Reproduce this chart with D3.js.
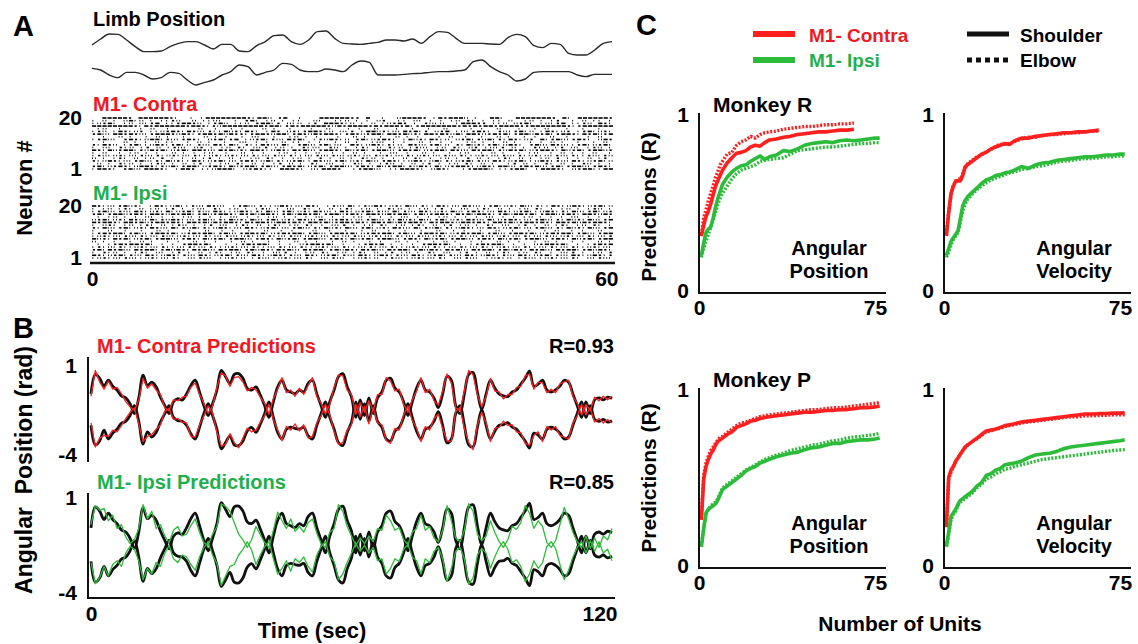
<!DOCTYPE html>
<html><head><meta charset="utf-8">
<script src="https://cdn.jsdelivr.net/npm/d3@7/dist/d3.min.js"></script>
<style>body{margin:0;background:#fff}svg{display:block}</style>
</head><body><svg id="fig" width="1138" height="644"></svg>
<script>
// ---------------- DATA ----------------
// Panel A: limb position traces (arbitrary units, higher = up), one sample per second 0..60
const limbSeconds = d3.range(0, 61);
const limbShoulder = [140,158,173,172,155,135,120,120,122,135,145,150,150,140,128,142,142,122,120,138,150,168,170,150,142,155,180,182,160,145,143,142,145,148,155,155,152,158,145,165,180,178,160,145,145,145,143,142,162,172,165,138,132,145,142,115,110,110,125,145,150];
const limbElbow = [70,65,50,42,58,58,50,38,42,58,55,35,20,28,35,50,60,80,75,50,58,65,85,82,65,60,60,68,65,60,80,92,88,50,50,50,52,54,55,58,60,60,62,65,90,95,75,60,50,32,38,58,60,60,60,60,50,45,52,52,52];

// Panel A rasters: one string per neuron (20 -> 1), each char a time bin: ' ' none, '.' spike, ':' two spikes, '-' burst, '=' dense burst
const rasterContra = [
"  =====- ======-.  . .========-.==: -=  .   ======-- =  .  :====- .=-===: .  ==.  =======- =. ======-",
". : . :=.: . ..-:  : ..:.  . -=. .: . ..  :.  ..: . . :-  .. :. . . .: -. . .. :  .: . .-  . : .. .",
".:-=. .: :.-= ..-==-: .-=: ..: -==.- :.: .- ===-.: . : .:-=- . -:.:  .===-- ..: :-=. .:.-= ..-: =-.",
"========-.=-======-==-.-:========-==.-=-=====-:=-====-=-===-=.-=======-=-=-==-====--=======-.-======",
" .:  .   . :  .     :  .  . .   : .  .   .  :   . .  :   .  .  .  :    . .  :   .  . :   .  .  .  ",
".-: .=-.:- ..:-=-.=-:.-..=:-.=-. .=- :-.-==-.: :.- .==:-.:.=-=.- :-= .:.-=-. -:.-=.: .=-.:- .-=.:-.",
"-=:.==-=-:.-===-:=-.-==-=:=--.-==-:==.-=-:=-==-.-=-:-==.==-=:-.==-=-:=.==-:-=-=.-==:=-=.-==-.=-=:-=",
"  .  : .  . : .  .   : . .  . :.  .  .: . .   .  : .  .  : . .   . :  .  .  : .  . .  :  .   . :  ",
".-=:. -=-.:==.-:.-=-. :-=.-= .:-=.-:.=-=. .-:=-.: -=.:-=-. .=:-.=-.: :-=.-:=.-.=-.:- =.-=:.-=-. :=-",
"  .   : . . : ..  . : .  .  :. . .  : .. . .  . : .  .:. . .  : . . .  .: . . : .  . . : .  .  . : ",
"-.=-: .-=..:=-.-=.: -:.=-.=: -..=-:.=. -=:.-=.:. =-.:=-.-.: =-:.-=.: -.=:-.-=.:=-. -=:.=-:..-=.:-=.",
". :. -.: .- : .-:. :- . .: -. :.- .: . -.:. -: . .-. : -.: .-:. .: -. :- .:.- : . -.: .- :. .-: .",
"=-.=:-==.-:=-=.:-=.==-:.=-=:-.==-.:=-.=-=:.-==-.=:-=.-==:.-=-=.:-==.=-:.=-==.-:=-=.:-==-.=:-=.-==:-",
". :  . .: . .  : . . .:  .  : . .  .: . . :  . . : .  . :. .  : .  . .:  . : .  . .:  . : . . :  .",
".-:.:-.:.-:.-.:-.:.-..:-.:-.:.-.:.-:.-..:.-:.-:.:-.:.-:-.:.-.:-.:.-:.-..:-.:.-:.-.:-.:.-:.-..-:.-:",
": . .-. : .: - . . : .- . : . .: -. . .: . - . : . -.: . . : -. . .: . - : . .-. : . .: - . . : .- ",
"-.:=-.:.-=:.-.=:-..=-.:-=.:.-=-.:=.-.:-=..=-:.-=.:-.=:.-=-..:=-.:=.-.:-=.-:.=-.:-=..:=-.-:.=-.:-=.:",
" : . -.: . .-: . : .- . .: -. : . .- : . -. :. . -: . .-: . : .- . .: -. : .  .- : . -. : . -: . .",
"-=.:-=-.:==-.-:=.-==.:-=-.=:-==.-=:.-=-=.:-=.-==:.-=-.=:-==.-:=-.=.:-==-.:=-.==:.-=-=:.-=.-==:.-=-.",
".==-. -=:.===-. .==- ..:===. :-=-.. ===-. :.===-  .-==:. ..===-. :=-.  .-===: ..-==. .===-. :-==..=="];
const rasterIpsi = [
"=-.:.-=:-. .=-.:=..-:.=-:. .-=:.-..:=-.:.=-. .-:.=..-:=-.:-.=:.-..=-.:.=-:..-=.:-.=:.-..=-.:=-.:-=.:",
". .: .-. : .: .- . .:. -. .: . .-: . :. -. . : .-. .: . -.: . .: .- . :. .-. : . .: -. . .: . .-: .",
".-=:.-:.=-.:-.=.:-=.-:.=-..:=-.-.=:.-=.:-.=-:..=-.:-=.-:.=.-:.=-.:-.=:.-=-.:.=-.:-=..:=-.-.=:.-=.:-",
"-=.-==:-=-.==-:=-==.-=:-==-.=-=:==-.-=:==-=.-==:-=-.==-:=-==.-=:-==-.=-=:==-.-=:==-=.-==:-=-.==-:=-",
" . .: . . :. . . .: . . . :. . . .: . . . :. . . .: . . . :. . . .: . . . :. . . .: . . . :. . . .",
":-=.:-.=-:.=.-:=-.:.-=:.-.=:-.=:.-=.:-.=-:.=.:-=-.:.-=:.-.=:-.=:.-=.:-.=-:.=.:-=-.:.-=:.-.=:-.=:.-=",
"=-==-.==-=:-==-=-.==-=:=-==-.=-==-:==-=-.==-=:-==-=-.==-=:=-==-.=-==-:==-=-.==-=:-==-=-.==-=:=-==-.",
". :-. .: .-. : .-: . .- :. .-. : .-. .: -. . :.- . .: -. .: .-. : .- .: . -. :. .- . : .-. .: -. .",
"-.=:.-=.:-.=-:.=.-:=.-.:=-.:.=-.:-=.:.-=:.-.=:-.=:.-=.:-.=-:.=.-:=.-.:=-.:.=-.:-=.:.-=:.-.=:-.=:.-=",
".  :  .  .  : .   .  :  . .  .  :  . .   :  .  .  . :  .  .  .  :  . .  .  :  .  .  . :  . .  :  ",
".-=-==.-=:.-==-=.:-=-==.-=:.-==-=.:-=-==.-=:.-==-=.:-=-==.-=:.-==-=.:-=-==.-=:.-==-=.:-=-==.-=:.-==",
".:-.:.-:.-.:.-:.:-.:.-.:.-:.:-.:.-.:.-:.:-.:.-.:.-:.:-.:.-.:.-:.:-.:.-.:.-:.:-.:.-.:.-:.:-.:.-.:.-",
"=:-.=-=.:-=.-==:.-=-.=:-=.-==:.-=-.=:-=.-==:.-=-.=:-=.-==:.-=-.=:-=.-==:.-=-.=:-=.-==:.-=-.=:-=.-==",
": . .  . : .  . .  : . .  . : .  . .  : . .  . : .  . .  : . .  . : .  . .  : . .  . : .  . .  : .",
" . .-=-==-=. . . -==-=.  . .-=-==. . . :-==-=. .  .-=-= . . . -==-=. . .-=-==. . . :-==-=. . .-=-=",
".-.:.-..:-.:.-..:.-.:.-..:-.:.-..:.-.:.-..:-.:.-..:.-.:.-..:-.:.-..:.-.:.-..:-.:.-..:.-.:.-..:-.:.",
"-=.=-=:.=-==.-=:=-.=-=:.=-==.-=:=-.=-=:.=-==.-=:=-.=-=:.=-==.-=:=-.=-=:.=-==.-=:=-.=-=:.=-==.-=:=-.",
". -.: . .-. :. .- . : .-. .: -. . :.- . .: -. .: .-. : .- .: . -. :. .- . : .-. .: -. . :.- . .: -",
"=-.:-=.-:.=-.:=-.-:.=-.:-=.-:.=-.:=-.-:.=-.:-=.-:.=-.:=-.-:.=-.:-=.-:.=-.:=-.-:.=-.:-=.-:.=-.:=-.-",
".:-.:.-:..:-.:.-. :.-:. .:-.: .-:..:-.:.-. :.-:. .:-.: .-:..:-.:.-. :.-:. .:-.: .-:..:-.:.-. :.-:."];

// Panel B: angular position (rad), one sample per second 0..120
const predSeconds = d3.range(0, 121);
const actualShoulder = [-0.57,0.53,0.31,-0.13,0.2,-0.13,-0.35,-0.68,-0.79,-1.12,
-1.67,-0.79,0.49,-0.09,0.09,-0.17,-0.75,-1.23,-1.67,-1.01,
-0.83,-0.92,-0.57,-0.09,0.2,-0.46,-1.23,-1.78,-1.12,-0.35,
0.75,0.4,0.02,0.53,0.57,0.31,-0.26,-0.35,-0.17,-0.64,
-1.23,-1.89,-1.01,-0.17,0.2,-0.35,-0.46,-0.55,-0.35,-0.46,
0.02,0.2,-0.55,-1.23,-1.89,-1.01,-0.35,0.4,0.57,-0.17,
-0.75,-1.89,-0.9,-1.78,-0.79,-1.67,-0.79,-0.46,0.2,0.31,
-0.24,-0.46,-1.01,-1.78,-1.01,-0.24,0.2,-0.35,-0.46,-0.79,
-1.34,-0.57,0.42,0.2,-1.23,-1.67,-0.57,0.53,0.64,-0.46,
-1.45,-0.57,0.2,-0.24,-0.57,-0.68,-0.72,-0.46,-0.35,-0.02,
0.31,0.71,-0.13,-0.02,0.2,-0.35,-0.46,-0.35,-0.13,0.2,
0.09,-0.57,-1.23,-1.89,-1.01,-1.67,-0.9,-0.79,-0.9,-0.75,
-0.83];
const actualElbow = [-2.33,-3.43,-3.21,-2.6,-3.1,-2.77,-2.55,-2.22,-2.11,-1.78,
-1.23,-2.11,-3.39,-2.7,-2.99,-2.73,-2.15,-1.67,-1.23,-1.89,
-2.07,-2.1,-2.33,-2.81,-3.1,-2.44,-1.67,-1.12,-1.78,-2.55,
-3.65,-3.3,-2.92,-3.43,-3.47,-3.21,-2.64,-2.45,-2.73,-2.26,
-1.67,-1.01,-1.89,-2.73,-3.1,-2.55,-2.44,-2.5,-2.55,-2.44,
-2.92,-3.1,-2.35,-1.67,-1.01,-1.89,-2.55,-3.3,-3.47,-2.73,
-2.15,-1.01,-2.0,-1.12,-2.11,-1.23,-2.11,-2.44,-3.1,-3.21,
-2.66,-2.44,-1.89,-1.12,-1.89,-2.66,-3.1,-2.55,-2.44,-2.11,
-1.56,-2.33,-3.32,-3.1,-1.67,-1.23,-2.33,-3.43,-3.54,-2.44,
-1.45,-2.33,-3.1,-2.66,-2.33,-2.3,-2.18,-2.44,-2.55,-2.88,
-3.21,-3.61,-2.77,-2.88,-3.1,-2.55,-2.44,-2.55,-2.77,-3.1,
-2.99,-2.33,-1.67,-1.01,-1.89,-1.23,-2.0,-2.11,-2.0,-2.15,
-2.07];
const contraShoulder = [-0.7,0.75,0.1,-0.3,0.15,-0.3,-0.2,-0.55,-1.0,-1.3,
-1.5,-0.9,0.3,-0.25,0.0,-0.35,-0.6,-1.35,-1.5,-0.9,
-0.95,-0.75,-0.7,-0.2,0.05,-0.6,-1.1,-1.65,-1.25,-0.2,
0.6,0.45,-0.15,0.35,0.4,0.1,-0.4,-0.2,-0.35,-0.75,
-1.1,-1.7,-0.85,-0.3,0.35,-0.5,-0.35,-0.7,-0.25,-0.6,
-0.1,0.35,-0.7,-1.1,-1.7,-1.15,-0.2,0.5,0.45,-0.35,
-0.6,-1.7,-1.05,-1.6,-0.95,-1.5,-0.6,-0.6,0.35,0.15,
-0.4,-0.3,-1.15,-1.6,-0.9,-0.4,0.35,-0.5,-0.3,-0.95,
-1.2,-0.4,0.55,0.05,-1.35,-1.5,-0.4,0.75,0.5,-0.6,
-1.3,-0.7,0.3,-0.4,-0.45,-0.85,-0.6,-0.6,-0.2,-0.15,
0.45,0.55,-0.3,0.1,0.05,-0.5,-0.3,-0.5,0.0,0.1,
0.2,-0.7,-1.1,-1.75,-1.15,-1.5,-0.75,-0.95,-0.7,-0.9,
-0.7];
const contraElbow = [-2.2,-3.55,-3.05,-2.9,-2.95,-2.6,-2.7,-2.35,-1.95,-1.6,
-1.35,-2.25,-3.25,-2.95,-2.85,-2.55,-2.3,-1.55,-1.4,-2.0,
-1.95,-2.15,-2.2,-2.95,-3.0,-2.3,-1.8,-1.25,-1.65,-2.7,
-3.5,-3.4,-2.8,-3.3,-3.6,-3.05,-2.5,-2.7,-2.6,-2.15,
-1.8,-1.15,-2.0,-2.6,-3.2,-2.4,-2.6,-2.25,-2.65,-2.3,
-3.05,-2.95,-2.2,-1.8,-1.15,-1.75,-2.7,-3.4,-3.3,-2.6,
-2.3,-1.15,-1.85,-1.25,-2.25,-1.35,-2.2,-2.3,-3.2,-3.35,
-2.5,-2.6,-1.75,-1.25,-2.05,-2.5,-3.25,-2.4,-2.6,-1.95,
-1.7,-2.5,-3.2,-3.25,-1.55,-1.35,-2.5,-3.3,-3.7,-2.3,
-1.6,-2.2,-3.25,-2.5,-2.45,-2.1,-2.35,-2.3,-2.7,-2.75,
-3.35,-3.45,-2.9,-2.7,-3.25,-2.4,-2.6,-2.4,-2.9,-3.0,
-3.1,-2.2,-1.8,-1.15,-1.75,-1.35,-2.15,-1.95,-2.2,-2.0,
-2.2];
const ipsiShoulder = [-0.4,0.6,0.35,0.45,-0.2,0.1,-0.6,-0.4,-1.05,-1.4,
-1.2,-0.6,0.65,-0.1,0.3,-0.6,-0.4,-1.0,-1.35,-0.7,
-0.5,-1.0,-0.9,-0.45,-0.1,-0.8,-1.35,-1.5,-0.9,-0.5,
0.7,0.55,0.3,-0.3,-0.9,-1.2,-1.6,-1.2,-0.5,-0.95,
-1.35,-1.6,-0.7,0.25,-0.2,-0.6,-0.1,-0.75,-0.5,-0.8,
-0.3,-0.1,-0.85,-1.4,-1.6,-0.8,-0.6,0.65,0.3,-0.5,
-1.0,-1.5,-1.1,-1.4,-1.0,-1.3,-0.6,-0.7,0.1,-0.2,
-0.7,-0.55,-1.2,-1.45,-0.8,-0.6,0.1,-0.7,-0.5,-1.1,
-1.3,-0.7,0.6,-0.2,-1.1,-1.3,-0.7,0.7,0.3,-0.9,
-1.25,-1.0,-0.2,-0.8,-1.3,-1.6,-1.2,-0.5,-0.65,-0.3,
0.6,0.2,-0.6,-0.2,-0.5,-1.35,-1.6,-1.25,-0.4,0.5,
-0.1,-0.8,-1.3,-1.6,-1.0,-1.65,-1.1,-1.6,-1.0,-1.2,
-0.6];
const ipsiElbow = [-2.4,-3.5,-3.2,-2.6,-3.1,-2.5,-2.3,-2.6,-1.9,-1.55,
-1.7,-2.3,-3.3,-2.7,-3.0,-2.4,-2.6,-1.9,-1.5,-2.2,
-2.4,-2.0,-2.1,-2.5,-2.8,-2.1,-1.6,-1.35,-2.0,-2.45,
-3.6,-3.1,-2.6,-2.5,-2.0,-1.7,-1.3,-1.75,-2.5,-2.0,
-1.55,-1.3,-2.2,-3.0,-2.7,-2.3,-2.85,-2.2,-2.4,-2.1,
-2.6,-2.9,-2.0,-1.55,-1.3,-2.1,-2.35,-3.3,-3.0,-2.4,
-1.9,-1.4,-1.8,-1.5,-1.9,-1.6,-2.3,-2.2,-3.0,-2.7,
-2.2,-2.35,-1.7,-1.45,-2.1,-2.3,-3.0,-2.2,-2.4,-1.8,
-1.6,-2.2,-3.4,-2.7,-1.8,-1.6,-2.2,-3.55,-3.2,-2.0,
-1.65,-1.9,-2.7,-2.1,-1.6,-1.3,-1.7,-2.4,-2.25,-2.6,
-3.4,-3.0,-2.3,-2.7,-2.4,-1.55,-1.3,-1.65,-2.5,-3.3,
-2.8,-2.1,-1.6,-1.3,-1.9,-1.25,-1.8,-1.3,-1.9,-1.7,
-2.3];

// Panel C: prediction (R) vs number of units
const units = [1,2,3,4,5,6,7,8,9,10,12,14,16,18,20,22,24,26,28,30,33,36,39,42,45,48,51,54,57,60,63,66,69,72,75,77];
const rPosContraShoulder = [0.32,0.38,0.43,0.46,0.5,0.55,0.6,0.63,0.66,0.69,0.73,0.76,0.785,0.79,0.8,0.82,0.83,0.825,0.845,0.86,0.865,0.875,0.88,0.89,0.895,0.9,0.905,0.905,0.91,0.915,0.915,0.92];
const rPosContraElbow = [0.33,0.42,0.47,0.52,0.56,0.6,0.65,0.68,0.72,0.74,0.78,0.79,0.83,0.85,0.86,0.88,0.87,0.89,0.9,0.905,0.91,0.92,0.925,0.93,0.935,0.935,0.94,0.945,0.945,0.95,0.95,0.955];
const rPosIpsiShoulder = [0.21,0.28,0.34,0.36,0.37,0.42,0.48,0.53,0.57,0.61,0.65,0.68,0.7,0.715,0.72,0.74,0.755,0.77,0.75,0.765,0.775,0.8,0.795,0.81,0.83,0.84,0.845,0.85,0.845,0.855,0.86,0.855,0.86,0.865,0.87,0.87];
const rPosIpsiElbow = [0.2,0.25,0.29,0.33,0.37,0.41,0.45,0.5,0.53,0.56,0.6,0.64,0.67,0.69,0.7,0.71,0.72,0.74,0.745,0.75,0.755,0.76,0.78,0.8,0.805,0.81,0.815,0.82,0.82,0.825,0.83,0.835,0.84,0.84,0.845,0.845];
const rVelContraShoulder = [0.32,0.45,0.56,0.6,0.63,0.63,0.63,0.66,0.71,0.72,0.74,0.76,0.78,0.79,0.81,0.82,0.83,0.84,0.835,0.855,0.87,0.87,0.88,0.885,0.89,0.895,0.9,0.9,0.905,0.905,0.91,0.915];
const rVelContraElbow = [0.33,0.46,0.55,0.61,0.62,0.64,0.64,0.67,0.7,0.725,0.745,0.765,0.775,0.795,0.805,0.825,0.835,0.835,0.84,0.85,0.865,0.875,0.875,0.885,0.89,0.89,0.895,0.9,0.9,0.905,0.91,0.91];
const rVelIpsiShoulder = [0.21,0.25,0.29,0.31,0.33,0.35,0.42,0.49,0.52,0.54,0.565,0.59,0.615,0.635,0.645,0.66,0.665,0.675,0.68,0.69,0.71,0.7,0.72,0.73,0.735,0.745,0.75,0.755,0.76,0.765,0.765,0.77,0.775,0.775,0.78,0.78];
const rVelIpsiElbow = [0.2,0.23,0.27,0.3,0.32,0.34,0.4,0.46,0.5,0.525,0.555,0.58,0.6,0.62,0.635,0.645,0.655,0.665,0.675,0.68,0.695,0.7,0.71,0.715,0.725,0.735,0.74,0.745,0.75,0.755,0.755,0.76,0.765,0.765,0.77,0.77];
const pPosContraShoulder = [0.27,0.5,0.57,0.61,0.64,0.66,0.69,0.71,0.72,0.73,0.75,0.765,0.79,0.8,0.81,0.825,0.83,0.84,0.845,0.85,0.855,0.86,0.865,0.87,0.875,0.875,0.88,0.885,0.885,0.89,0.89,0.895,0.9,0.9,0.905,0.91];
const pPosContraElbow = [0.28,0.52,0.59,0.63,0.66,0.68,0.7,0.72,0.735,0.74,0.76,0.78,0.8,0.815,0.82,0.83,0.84,0.85,0.855,0.86,0.865,0.87,0.875,0.88,0.885,0.89,0.89,0.895,0.9,0.9,0.905,0.91,0.915,0.92,0.925,0.93];
const pPosIpsiShoulder = [0.12,0.22,0.31,0.33,0.34,0.35,0.36,0.38,0.41,0.44,0.46,0.48,0.5,0.52,0.545,0.56,0.57,0.59,0.6,0.61,0.625,0.635,0.645,0.65,0.665,0.675,0.68,0.69,0.7,0.7,0.71,0.715,0.72,0.72,0.725,0.73];
const pPosIpsiElbow = [0.12,0.23,0.3,0.33,0.35,0.36,0.37,0.39,0.42,0.45,0.47,0.49,0.51,0.53,0.55,0.565,0.58,0.595,0.61,0.62,0.635,0.645,0.66,0.67,0.68,0.69,0.695,0.705,0.715,0.72,0.73,0.735,0.74,0.745,0.75,0.757];
const pVelContraShoulder = [0.23,0.51,0.55,0.57,0.6,0.62,0.64,0.66,0.68,0.69,0.71,0.73,0.75,0.77,0.775,0.78,0.79,0.8,0.805,0.81,0.82,0.825,0.83,0.835,0.84,0.845,0.85,0.855,0.86,0.865,0.865,0.867,0.868,0.87,0.87,0.872];
const pVelContraElbow = [0.23,0.5,0.54,0.57,0.6,0.62,0.64,0.66,0.675,0.69,0.71,0.725,0.745,0.765,0.77,0.78,0.785,0.795,0.8,0.805,0.815,0.82,0.825,0.83,0.835,0.84,0.845,0.85,0.85,0.855,0.855,0.857,0.858,0.86,0.86,0.86];
const pVelIpsiShoulder = [0.12,0.2,0.29,0.31,0.33,0.36,0.38,0.39,0.4,0.41,0.43,0.46,0.48,0.52,0.53,0.55,0.56,0.58,0.585,0.59,0.6,0.62,0.635,0.64,0.645,0.655,0.67,0.68,0.685,0.69,0.695,0.7,0.705,0.71,0.715,0.72];
const pVelIpsiElbow = [0.12,0.19,0.27,0.3,0.32,0.35,0.37,0.38,0.39,0.4,0.42,0.45,0.47,0.5,0.51,0.53,0.54,0.555,0.56,0.57,0.58,0.59,0.6,0.61,0.615,0.62,0.625,0.63,0.635,0.64,0.645,0.65,0.655,0.66,0.663,0.665];

// ---------------- DRAWING ----------------
const RED = "#ff1f1f", RED_T = "#f2181f", GREEN = "#2cbc3a", GREEN_T = "#1fb04c", INK = "#111";
const FONT = '"Liberation Sans", Arial, Helvetica, sans-serif';
const fmt = d => String(d);
const svg = d3.select("#fig");

function label(x, y, s, size, fill, anchor, rot) {
  const t = svg.append("text").attr("x", x).attr("y", y).text(s)
    .attr("font-size", size).attr("font-family", FONT).attr("font-weight", "bold")
    .attr("fill", fill || "#000").attr("text-anchor", anchor || "start")
    .style("white-space", "pre");
  if (rot != null) t.attr("transform", `rotate(${rot},${x},${y})`).attr("dominant-baseline", "central");
  return t;
}
function styleAxis(g, size) {
  g.select(".domain").remove();
  g.selectAll("text").attr("font-size", size).attr("font-family", FONT).attr("font-weight", "bold").attr("fill", "#000");
}
function vline(x, y1, y2, w) { svg.append("line").attr("x1", x).attr("x2", x).attr("y1", y1).attr("y2", y2).attr("stroke", INK).attr("stroke-width", w); }
function hline(y, x1, x2, w) { svg.append("line").attr("x1", x1).attr("x2", x2).attr("y1", y).attr("y2", y).attr("stroke", INK).attr("stroke-width", w); }

// ===== Panel A =====
label(13, 36, "A", 29);
label(93, 26, "Limb Position", 20);
const xLimb = d3.scaleLinear().domain([0, 60]).range([92, 612]);
const yLimb = d3.scaleLinear().domain([0, 200]).range([25 + 200 / 3, 25]);
[limbShoulder, limbElbow].forEach(vals => {
  svg.append("path").datum(vals)
    .attr("d", d3.line().x((d, i) => xLimb(limbSeconds[i])).y(d => yLimb(d)).curve(d3.curveMonotoneX))
    .attr("fill", "none").attr("stroke", "#2a2a2a").attr("stroke-width", 1.4);
});

const xRaster = d3.scaleLinear().domain([0, 60]).range([92, 614]);
function raster(rows, yTop, yBot) {
  const y = d3.scaleLinear().domain([20, 1]).range([yTop, yBot]);
  const g = svg.append("g");
  rows.forEach((str, k) => {
    const neuron = 20 - k, L = str.length, bw = 60 / L;
    const yc = y(neuron);
    for (let i = 0; i < L; i++) {
      const c = str[i];
      if (c === " ") continue;
      const x0 = xRaster(i * bw), w = xRaster(bw) - xRaster(0);
      const marks = c === "." ? [[0.4, 0.9]] : c === ":" ? [[0, 0.9], [w * 0.55, 0.9]] : c === "-" ? [[0.8, w * 0.42]] : [[0, w * 0.8]];
      marks.forEach(m => g.append("rect").attr("x", x0 + m[0]).attr("y", yc - 0.8).attr("width", m[1]).attr("height", 1.6).attr("fill", "#000"));
    }
  });
}
label(93, 111, "M1- Contra", 20, RED_T);
raster(rasterContra, 118, 169);
label(93, 200, "M1- Ipsi", 20, GREEN_T);
raster(rasterIpsi, 206, 258);
const yTickA1 = d3.scaleLinear().domain([20, 1]).range([118, 169]);
const yTickA2 = d3.scaleLinear().domain([20, 1]).range([206, 258]);
[yTickA1, yTickA2].forEach(s => {
  const g = svg.append("g").attr("transform", "translate(90,0)").call(d3.axisLeft(s).tickValues([20, 1]).tickFormat(fmt).tickSize(0).tickPadding(8));
  styleAxis(g, 21);
});
const axA = svg.append("g").attr("transform", "translate(0,263)").call(d3.axisBottom(xRaster).tickValues([0, 60]).tickFormat(fmt).tickSize(0).tickPadding(8));
styleAxis(axA, 21);
axA.selectAll(".tick text").filter(d => d === 60).attr("text-anchor", "end").attr("x", 4);
hline(263, 90, 615, 2.5);
label(24, 188, "Neuron #", 22, "#000", "middle", -90);

// ===== Panel B =====
label(13, 338, "B", 29);
const xB = d3.scaleLinear().domain([0, 120]).range([91, 612]);
function predPanel(yTop, yBot, predS, predE, color) {
  const y = d3.scaleLinear().domain([-4, 1]).range([yBot, yTop]);
  const g = svg.append("g").attr("transform", "translate(88,0)").call(d3.axisLeft(y).tickValues([1, -4]).tickFormat(fmt).tickSize(0).tickPadding(11));
  styleAxis(g, 21);
  const smooth = d3.line().x((d, i) => xB(predSeconds[i])).y(d => y(d)).curve(d3.curveCatmullRom);
  const rough = d3.line().x((d, i) => xB(predSeconds[i])).y(d => y(d));
  [actualShoulder, actualElbow].forEach(v => svg.append("path").datum(v).attr("d", smooth).attr("fill", "none").attr("stroke", INK).attr("stroke-width", 2.8).attr("stroke-linejoin", "round"));
  [predS, predE].forEach(v => svg.append("path").datum(v).attr("d", rough).attr("fill", "none").attr("stroke", color).attr("stroke-width", 1.3).attr("stroke-linejoin", "round"));
  return y;
}
label(97, 353, "M1- Contra Predictions", 20, RED_T);
label(614, 353, "R=0.93", 20, "#000", "end");
const yBc = predPanel(366, 455, contraShoulder, contraElbow, RED);
vline(88, yBc(1) - 9, yBc(-4) + 7, 2);
label(97, 489, "M1- Ipsi Predictions", 20, GREEN_T);
label(614, 489, "R=0.85", 20, "#000", "end");
const yBi = predPanel(498, 593, ipsiShoulder, ipsiElbow, GREEN);
vline(88, yBi(1) - 5, 598, 2);
hline(598, 87, 615, 2);
const axB = svg.append("g").attr("transform", "translate(0,598)").call(d3.axisBottom(xB).tickValues([0, 120]).tickFormat(fmt).tickSize(0).tickPadding(8));
styleAxis(axB, 21);
axB.selectAll(".tick text").filter(d => d === 120).attr("text-anchor", "end").attr("x", 5);
label(312, 638, "Time (sec)", 22, "#000", "middle");
label(24, 470, "Angular  Position (rad)", 23, "#000", "middle", -90);

// ===== Panel C =====
label(636, 35, "C", 29);
svg.append("line").attr("x1", 753).attr("x2", 795).attr("y1", 34).attr("y2", 34).attr("stroke", RED).attr("stroke-width", 6);
label(809, 42, "M1- Contra", 19, RED_T);
svg.append("line").attr("x1", 753).attr("x2", 795).attr("y1", 60).attr("y2", 60).attr("stroke", GREEN).attr("stroke-width", 6);
label(809, 67, "M1- Ipsi", 19, GREEN_T);
svg.append("line").attr("x1", 967).attr("x2", 1009).attr("y1", 34).attr("y2", 34).attr("stroke", INK).attr("stroke-width", 5);
label(1020, 42, "Shoulder", 19);
svg.append("line").attr("x1", 967).attr("x2", 1009).attr("y1", 60).attr("y2", 60).attr("stroke", INK).attr("stroke-width", 5).attr("stroke-dasharray", "5,4");
label(1020, 67, "Elbow", 19);

function cPanel(x0, y0, series, title, word2) {
  const x = d3.scaleLinear().domain([0, 75]).range([x0, x0 + 176]);
  const y = d3.scaleLinear().domain([0, 1]).range([y0, y0 - 178]);
  const line = d3.line().x((d, i) => x(units[i])).y(d => y(d));
  series.forEach(s => {
    svg.append("path").datum(s.v).attr("d", line).attr("fill", "none")
      .attr("stroke", s.c).attr("stroke-width", s.dot ? 3.4 : 3.6)
      .attr("stroke-dasharray", s.dot ? "2,1.6" : null).attr("stroke-linejoin", "round");
  });
  vline(x0, y(1) - 2, y0 + 1, 2);
  hline(y0, x0 - 1, x0 + 187, 2);
  const gl = svg.append("g").attr("transform", `translate(${x0 - 2},0)`).call(d3.axisLeft(y).tickValues([0, 1]).tickFormat(fmt).tickSize(0).tickPadding(8));
  styleAxis(gl, 21);
  gl.selectAll(".tick text").filter(d => d === 0).attr("dy", "0.2em");
  const gb = svg.append("g").attr("transform", `translate(0,${y0})`).call(d3.axisBottom(x).tickValues([0, 75]).tickFormat(fmt).tickSize(0).tickPadding(7));
  styleAxis(gb, 21);
  if (title) label(x0 + 14, y(1) - 3, title, 21);
  label(x0 + 130, y0 - 38, "Angular", 20, "#000", "middle");
  label(x0 + 130, y0 - 15, word2, 20, "#000", "middle");
}
cPanel(699, 293, [
  { v: rPosContraElbow, c: RED, dot: true }, { v: rPosIpsiElbow, c: GREEN, dot: true },
  { v: rPosContraShoulder, c: RED }, { v: rPosIpsiShoulder, c: GREEN }], "Monkey R", "Position");
cPanel(944, 293, [
  { v: rVelContraElbow, c: RED, dot: true }, { v: rVelIpsiElbow, c: GREEN, dot: true },
  { v: rVelContraShoulder, c: RED }, { v: rVelIpsiShoulder, c: GREEN }], null, "Velocity");
cPanel(699, 568, [
  { v: pPosContraElbow, c: RED, dot: true }, { v: pPosIpsiElbow, c: GREEN, dot: true },
  { v: pPosContraShoulder, c: RED }, { v: pPosIpsiShoulder, c: GREEN }], "Monkey P", "Position");
cPanel(944, 568, [
  { v: pVelContraElbow, c: RED, dot: true }, { v: pVelIpsiElbow, c: GREEN, dot: true },
  { v: pVelContraShoulder, c: RED }, { v: pVelIpsiShoulder, c: GREEN }], null, "Velocity");
label(648, 207, "Predictions (R)", 21, "#000", "middle", -90);
label(648, 478, "Predictions (R)", 21, "#000", "middle", -90);
label(900, 631, "Number of Units", 21, "#000", "middle");
</script></body></html>
